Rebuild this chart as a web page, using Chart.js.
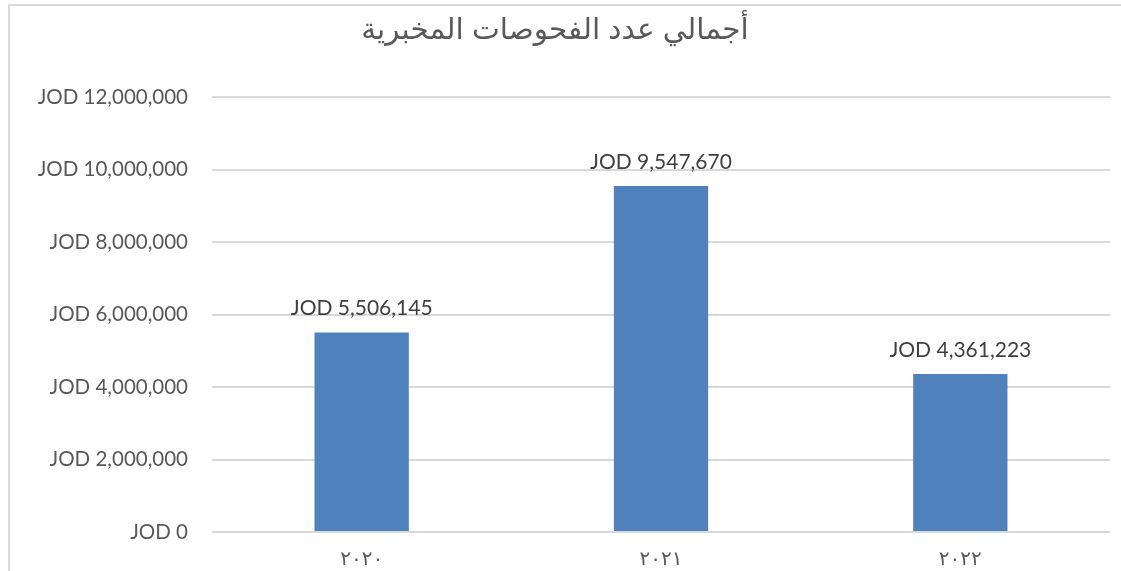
<!DOCTYPE html>
<html>
<head>
<meta charset="utf-8">
<script src="https://cdn.jsdelivr.net/npm/chart.js@4.4.1/dist/chart.umd.min.js"></script>
<style>
  html, body { margin: 0; padding: 0; background: #fff; overflow: hidden; }
  #frame { position: absolute; left: 8px; top: 4px; width: 1200px; height: 700px;
           border-top: 2px solid #d9d9d9; border-left: 2px solid #d9d9d9; }
  #wrap { position: absolute; left: 0; top: 0; width: 1121px; height: 571px; }
</style>
</head>
<body>
<div id="frame"></div>
<div id="wrap"><canvas id="chart" width="1121" height="571"></canvas></div>
<script>
const title = 'أجمالي عدد الفحوصات المخبرية';
const years = ['٢٠٢٠', '٢٠٢١', '٢٠٢٢'];
const totals = [5506145, 9547670, 4361223];
const yTicks = [0, 2000000, 4000000, 6000000, 8000000, 10000000, 12000000];

const fmt = v => 'JOD ' + Number(v).toLocaleString('en-US');

// value labels above each bar
const barLabels = {
  id: 'barLabels',
  afterDatasetsDraw(chart) {
    const ctx = chart.ctx;
    ctx.save();
    ctx.font = '21px Lato';
    ctx.fillStyle = '#404040';
    ctx.textAlign = 'center';
    ctx.textBaseline = 'alphabetic';
    chart.getDatasetMeta(0).data.forEach((bar, i) => {
      ctx.fillText(fmt(totals[i]), bar.x, bar.y - 17);
    });
    ctx.restore();
  }
};

const ctx = document.getElementById('chart').getContext('2d');
new Chart(ctx, {
  type: 'bar',
  data: {
    labels: years,
    datasets: [{
      data: totals,
      backgroundColor: '#4f81bd',
      categoryPercentage: 1,
      barPercentage: 0.315,
    }]
  },
  options: {
    responsive: false,
    animation: false,
    layout: { padding: { top: 13, right: 11, left: 0, bottom: 0 } },
    plugins: {
      legend: { display: false },
      tooltip: { enabled: false },
      title: {
        display: true,
        text: title,
        color: '#595959',
        font: { family: "'Liberation Sans', 'DejaVu Sans', sans-serif", size: 29.5, weight: 'normal' },
        padding: { top: 0, bottom: 48.6 },
      },
    },
    scales: {
      x: {
        grid: { display: false },
        border: { display: false },
        ticks: { color: '#595959', padding: 8, font: { family: "'DejaVu Sans'", size: 20 } },
        afterFit: s => { s.height = 39; },
      },
      y: {
        min: 0,
        max: 12000000,
        afterBuildTicks: s => { s.ticks = yTicks.map(v => ({ value: v })); },
        afterFit: s => { s.width = 212; },
        grid: { color: '#d9d9d9', lineWidth: 2, drawTicks: false },
        border: { display: false },
        ticks: { color: '#595959', padding: 24, font: { family: 'Lato', size: 20.5 }, callback: v => fmt(v) },
      },
    },
  },
  plugins: [barLabels],
});
</script>
</body>
</html>
